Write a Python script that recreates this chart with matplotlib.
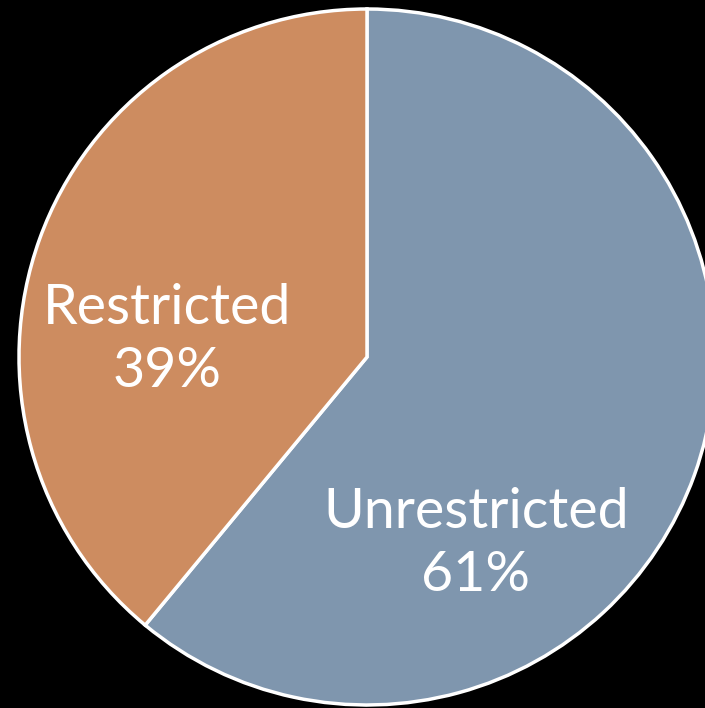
import matplotlib.pyplot as plt

labels = ['Unrestricted', 'Restricted']
shares = [61, 39]
colors = ['#7F96AE', '#CD8C60']

fig = plt.figure(figsize=(7.05, 7.08), dpi=100, facecolor='black')
ax = fig.add_axes([0, 0, 1, 1])
ax.set_facecolor('black')

ax.pie(shares, colors=colors, startangle=90, counterclock=False,
       center=(367, 351), radius=348,
       wedgeprops=dict(edgecolor='white', linewidth=2.5))

ax.set_xlim(0, 705)
ax.set_ylim(0, 708)
ax.set_aspect('equal')
ax.axis('off')

# label positions in pixel space (y measured from bottom)
pos = {'Unrestricted': (476, 164), 'Restricted': (167, 368)}
for lab, val in zip(labels, shares):
    x, y = pos[lab]
    ax.text(x, y, f'{lab}\n{val}%', ha='center', va='center', color='white',
            fontsize=40, family=['Lato', 'DejaVu Sans'], linespacing=1.3)

fig.savefig('out.png', dpi=100, facecolor='black')
